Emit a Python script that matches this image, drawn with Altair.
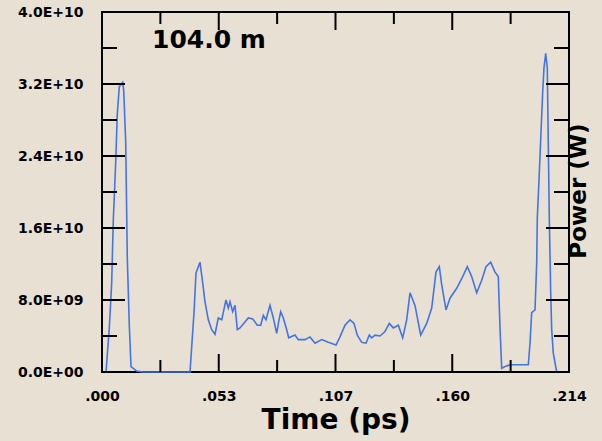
import altair as alt
import pandas as pd

# Pulse power trace (time in ps, power in W)
time_ps = [0.0, 0.00183, 0.00335, 0.00444, 0.00518, 0.00628, 0.00701, 0.00793, 0.00949, 0.00994,
           0.01086, 0.01159, 0.01251, 0.01329, 0.01590, 0.01879, 0.04033, 0.04216, 0.04307, 0.04491,
           0.04614, 0.04720, 0.04871, 0.05027, 0.05178, 0.05329, 0.05485, 0.05682, 0.05788, 0.05865,
           0.05989, 0.06095, 0.06200, 0.06324, 0.06704, 0.06906, 0.07116, 0.07272, 0.07391, 0.07515,
           0.07698, 0.07850, 0.08005, 0.08097, 0.08189, 0.08308, 0.08464, 0.08555, 0.08844, 0.08995,
           0.09302, 0.09531, 0.09761, 0.10067, 0.10370, 0.10723, 0.10906, 0.11135, 0.11364, 0.11548,
           0.11699, 0.11900, 0.12098, 0.12249, 0.12359, 0.12510, 0.12739, 0.12968, 0.13165, 0.13349,
           0.13578, 0.13779, 0.13962, 0.14114, 0.14343, 0.14604, 0.14879, 0.15108, 0.15305, 0.15457,
           0.15566, 0.15763, 0.15947, 0.16254, 0.16529, 0.16739, 0.16941, 0.17170, 0.17399, 0.17596,
           0.17812, 0.18009, 0.18160, 0.18238, 0.18316, 0.18467, 0.18696, 0.19535, 0.19613, 0.19690,
           0.19842, 0.19920, 0.19947, 0.20025, 0.20103, 0.20194, 0.20254, 0.20332, 0.20405, 0.20451,
           0.20497, 0.20561, 0.20607, 0.20680, 0.20836, 0.21400]
power_w = [0.0, 0.0, 4.9e9, 9.9e9, 16.9e9, 23.3e9, 28.7e9, 31.7e9, 32.2e9, 31.3e9,
           25.6e9, 12.7e9, 5.2e9, 0.6e9, 0.1e9, 0.0, 0.0, 6.6e9, 11.0e9, 12.2e9,
           9.9e9, 7.8e9, 5.8e9, 4.7e9, 4.2e9, 6.0e9, 5.8e9, 8.0e9, 7.1e9, 7.8e9,
           6.7e9, 7.4e9, 4.7e9, 4.9e9, 6.0e9, 5.9e9, 5.2e9, 5.2e9, 6.3e9, 5.8e9,
           7.4e9, 6.0e9, 4.3e9, 5.6e9, 6.7e9, 6.0e9, 4.7e9, 3.8e9, 4.1e9, 3.6e9,
           3.6e9, 3.9e9, 3.2e9, 3.6e9, 3.3e9, 3.0e9, 3.9e9, 5.2e9, 5.8e9, 5.4e9,
           4.1e9, 3.3e9, 3.2e9, 4.1e9, 3.8e9, 4.1e9, 4.0e9, 4.5e9, 5.4e9, 4.9e9,
           5.2e9, 3.8e9, 5.8e9, 8.8e9, 7.4e9, 4.1e9, 5.4e9, 7.1e9, 11.1e9, 11.7e9,
           9.7e9, 6.9e9, 8.2e9, 9.3e9, 10.6e9, 11.7e9, 10.6e9, 8.8e9, 10.2e9, 11.7e9,
           12.2e9, 11.1e9, 10.6e9, 4.9e9, 0.4e9, 0.6e9, 0.8e9, 0.8e9, 3.2e9, 6.6e9,
           6.9e9, 12.1e9, 17.1e9, 21.3e9, 25.8e9, 31.1e9, 33.8e9, 35.4e9, 33.8e9, 25.4e9,
           17.2e9, 8.8e9, 4.7e9, 2.1e9, 0.0, 0.0]

x_tick_values = [0.0, 0.0535, 0.107, 0.1605, 0.214]
x_tick_labels = [".000", ".053", ".107", ".160", ".214"]
x_minor_values = [0.02675, 0.08025, 0.13375, 0.18725]
y_tick_values = [0.0, 8e9, 16e9, 24e9, 32e9, 40e9]
y_tick_labels = ["0.0E+00", "8.0E+09", "1.6E+10", "2.4E+10", "3.2E+10", "4.0E+10"]
y_minor_values = [4e9, 12e9, 20e9, 28e9, 36e9]

x_title = "Time (ps)"
y_title = "Power (W)"
annotation = "104.0 m"

W, H = 467, 360
FONT = "DejaVu Sans"
BG = "#E8E1D3"
LINE = "#4474E2"

df = pd.DataFrame({"t": time_ps, "p": power_w})
xs = alt.Scale(domain=[0, 0.214], nice=False, zero=False)
ys = alt.Scale(domain=[0, 4e10], nice=False)

xlab_expr = "[" + ",".join("'%s'" % s for s in x_tick_labels) + "][round(datum.value/0.0535)]"
ylab_expr = "[" + ",".join("'%s'" % s for s in y_tick_labels) + "][round(datum.value/8e9)]"

line = alt.Chart(df).mark_line(color=LINE, strokeWidth=1.6).encode(
    x=alt.X("t:Q", scale=xs, axis=alt.Axis(
        values=x_tick_values, labelExpr=xlab_expr, ticks=False, domain=False, grid=False,
        labelFont=FONT, labelFontSize=14, labelFontWeight="bold", labelColor="black",
        labelPadding=17, title=None, labelFlush=False)),
    y=alt.Y("p:Q", scale=ys, axis=alt.Axis(
        values=y_tick_values, labelExpr=ylab_expr, ticks=False, domain=False, grid=False,
        labelFont=FONT, labelFontSize=14, labelFontWeight="bold", labelColor="black",
        labelPadding=19, title=None, labelFlush=False)),
)

ymaj = pd.DataFrame({"v": y_tick_values})
ymin = pd.DataFrame({"v": y_minor_values})
xmaj = pd.DataFrame({"v": x_tick_values[1:-1]})
xmin = pd.DataFrame({"v": x_minor_values})

def yticks(d, L):
    left = alt.Chart(d).mark_rule(color="black", strokeWidth=2).encode(
        y=alt.Y("v:Q", scale=ys), x=alt.value(0), x2=alt.value(L))
    right = alt.Chart(d).mark_rule(color="black", strokeWidth=2).encode(
        y=alt.Y("v:Q", scale=ys), x=alt.value(W - L), x2=alt.value(W))
    return left + right

def xticks(d, L):
    bottom = alt.Chart(d).mark_rule(color="black", strokeWidth=2).encode(
        x=alt.X("v:Q", scale=xs), y=alt.value(H), y2=alt.value(H - L))
    top = alt.Chart(d).mark_rule(color="black", strokeWidth=2).encode(
        x=alt.X("v:Q", scale=xs), y=alt.value(0), y2=alt.value(L))
    return bottom + top

txt_df = pd.DataFrame({"a": [annotation], "xt": [x_title], "yt": [y_title]})
ann = alt.Chart(txt_df).mark_text(font=FONT, fontSize=25, fontWeight="bold", color="black",
                                  align="left", baseline="alphabetic").encode(
    text="a:N", x=alt.value(50), y=alt.value(36))
xt = alt.Chart(txt_df).mark_text(font=FONT, fontSize=28, fontWeight="bold", color="black",
                                 align="center", baseline="alphabetic").encode(
    text="xt:N", x=alt.value(234), y=alt.value(417))
yt = alt.Chart(txt_df).mark_text(font=FONT, fontSize=23, fontWeight="bold", color="black",
                                 align="center", baseline="alphabetic", angle=270).encode(
    text="yt:N", x=alt.value(484), y=alt.value(179))

chart = alt.layer(
    line,
    yticks(ymaj, 23), yticks(ymin, 15),
    xticks(xmaj, 18), xticks(xmin, 12),
    ann, xt, yt,
).properties(
    width=W, height=H,
    background=BG,
    padding={"left": 102, "top": 12, "right": 33, "bottom": 69},
    autosize=alt.AutoSizeParams(type="none"),
).configure_view(stroke="black", strokeWidth=2)

chart.save("out.html", embed_options={"renderer": "svg", "actions": False})
